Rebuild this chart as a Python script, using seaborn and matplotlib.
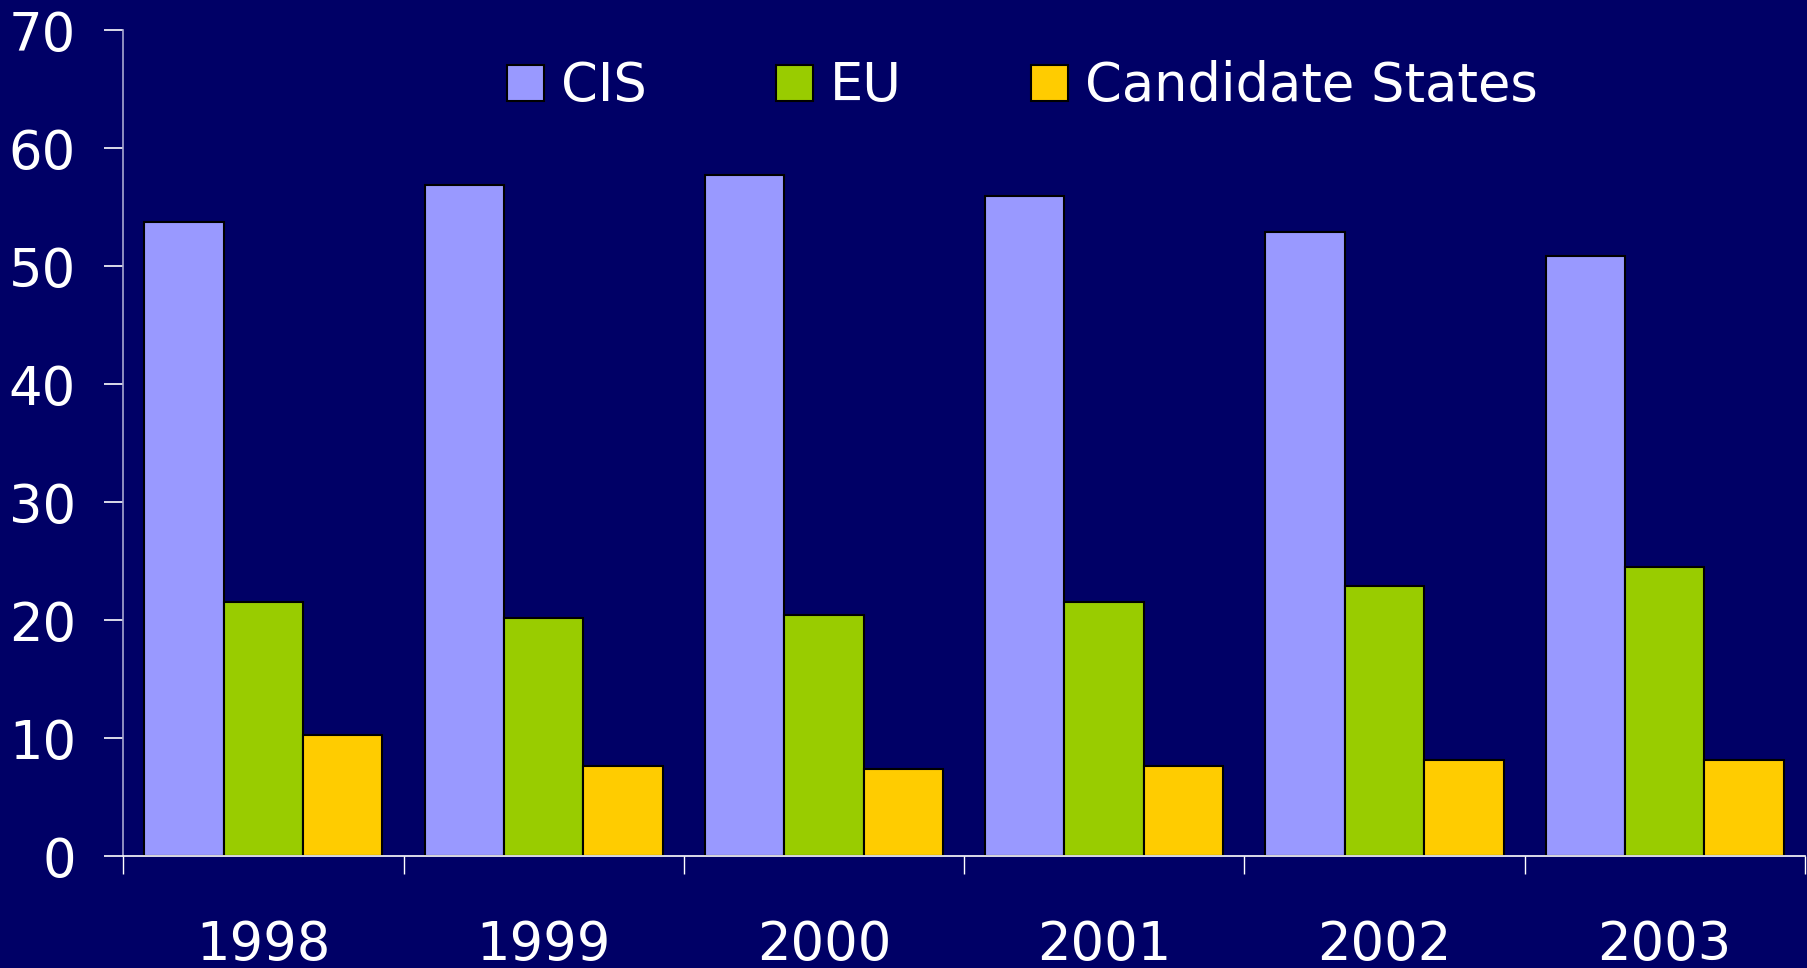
import matplotlib
matplotlib.use("Agg")
import matplotlib.pyplot as plt
import seaborn as sns
import pandas as pd

# values
years = ['1998', '1999', '2000', '2001', '2002', '2003']
cis = [53.8, 56.9, 57.7, 56.0, 52.9, 50.9]
eu = [21.6, 20.2, 20.5, 21.6, 22.9, 24.5]
candidates = [10.3, 7.7, 7.4, 7.7, 8.2, 8.2]
groups = ['CIS', 'EU', 'Candidate States']
colors = ['#9999FF', '#99CC00', '#FFCC00']

df = pd.DataFrame({
    'Year': years * 3,
    'Share': cis + eu + candidates,
    'Group': [g for g in groups for _ in years],
})

bg = '#000066'
sns.set_style('white')
plt.rcParams['font.family'] = ['DejaVu Sans']

fig = plt.figure(figsize=(18.07, 9.68), dpi=100, facecolor=bg)
ax = fig.add_axes([0.0682, 0.1152, 0.9306, 0.8535])
ax.set_facecolor(bg)

sns.barplot(data=df, x='Year', y='Share', hue='Group', hue_order=groups,
            palette=colors, width=0.85, edgecolor='black', linewidth=1.5,
            saturation=1, ax=ax)

ax.set_xlim(-0.5, 5.5)
ax.set_ylim(0, 70)
ax.set_yticks(range(0, 71, 10))
ax.set_xlabel('')
ax.set_ylabel('')

for s in ['top', 'right']:
    ax.spines[s].set_visible(False)
ax.spines['left'].set_color('#a8a8d0')
ax.spines['left'].set_linewidth(1.2)
ax.spines['bottom'].set_color('white')
ax.spines['bottom'].set_linewidth(1.2)

ax.tick_params(axis='y', left=True, colors='white', labelsize=38, length=14,
               width=1.2, direction='out', pad=20)
ax.tick_params(axis='x', which='major', bottom=True, colors='white',
               labelsize=38, length=0, pad=45)
ax.set_xticks([i - 0.5 for i in range(7)], minor=True)
ax.tick_params(axis='x', which='minor', bottom=True, colors='white',
               length=13, width=1, direction='out')

ax.legend(loc='center', bbox_to_anchor=(0.566, 0.911),
          bbox_transform=fig.transFigure, ncol=3, frameon=False,
          fontsize=38, labelcolor='white', handlelength=0.7,
          handleheight=0.67, handletextpad=0.32, columnspacing=2.45)

fig.savefig('out.png', dpi=100, facecolor=bg)
